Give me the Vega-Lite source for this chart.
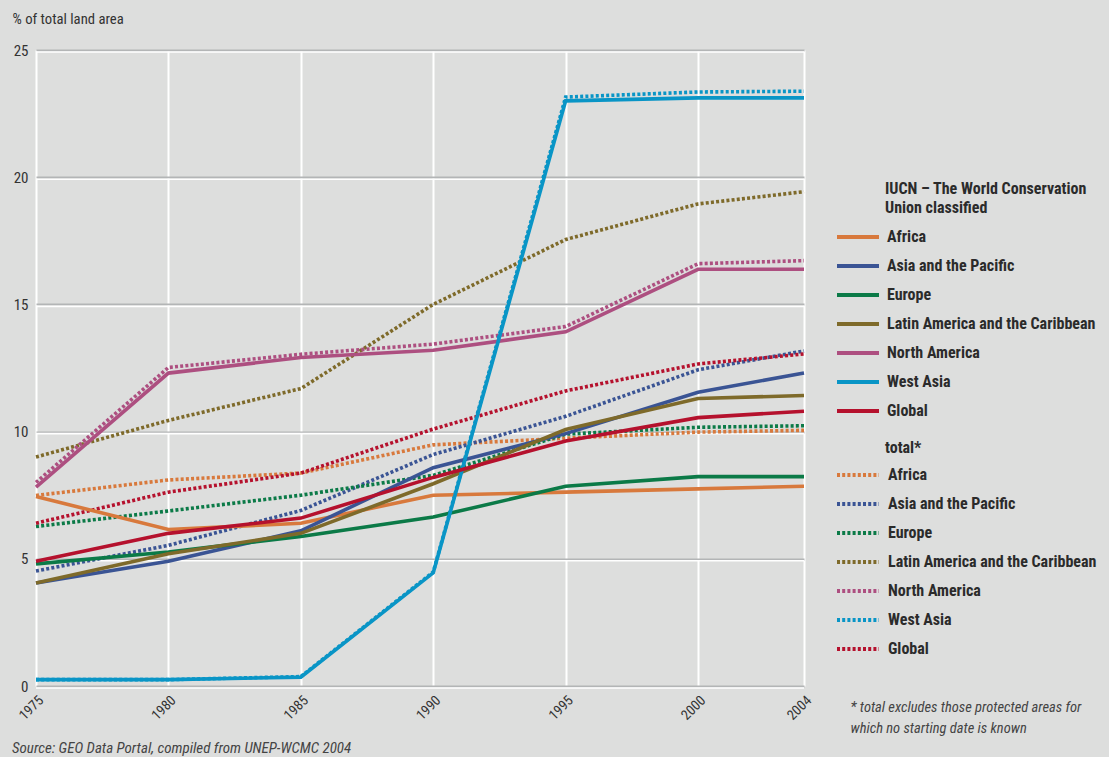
{
  "$schema": "https://vega.github.io/schema/vega-lite/v6.json",
  "width": 768,
  "height": 636,
  "autosize": "none",
  "padding": {"left": 36, "top": 50, "right": 305, "bottom": 71},
  "background": "#dddedd",
  "config": {
    "view": {"stroke": null},
    "font": "Liberation Sans Narrow, Roboto Condensed, Arial Narrow, Roboto, sans-serif"
  },
  "title": {
    "text": "Source: GEO Data Portal, compiled from UNEP-WCMC 2004",
    "orient": "bottom",
    "anchor": "start",
    "frame": "group",
    "fontSize": 15,
    "fontStyle": "italic",
    "fontWeight": "normal",
    "color": "#444444",
    "dx": -24,
    "offset": 6
  },
  "data": {
    "values": [
      {"year": 1975, "region": "Africa", "series": "IUCN", "value": 7.45},
      {"year": 1980, "region": "Africa", "series": "IUCN", "value": 6.15},
      {"year": 1985, "region": "Africa", "series": "IUCN", "value": 6.4},
      {"year": 1990, "region": "Africa", "series": "IUCN", "value": 7.5},
      {"year": 1995, "region": "Africa", "series": "IUCN", "value": 7.62},
      {"year": 2000, "region": "Africa", "series": "IUCN", "value": 7.75},
      {"year": 2004, "region": "Africa", "series": "IUCN", "value": 7.85},
      {"year": 1975, "region": "Asia and the Pacific", "series": "IUCN", "value": 4.05},
      {"year": 1980, "region": "Asia and the Pacific", "series": "IUCN", "value": 4.9},
      {"year": 1985, "region": "Asia and the Pacific", "series": "IUCN", "value": 6.1},
      {"year": 1990, "region": "Asia and the Pacific", "series": "IUCN", "value": 8.58},
      {"year": 1995, "region": "Asia and the Pacific", "series": "IUCN", "value": 9.92},
      {"year": 2000, "region": "Asia and the Pacific", "series": "IUCN", "value": 11.55},
      {"year": 2004, "region": "Asia and the Pacific", "series": "IUCN", "value": 12.3},
      {"year": 1975, "region": "Europe", "series": "IUCN", "value": 4.8},
      {"year": 1980, "region": "Europe", "series": "IUCN", "value": 5.27},
      {"year": 1985, "region": "Europe", "series": "IUCN", "value": 5.88},
      {"year": 1990, "region": "Europe", "series": "IUCN", "value": 6.64},
      {"year": 1995, "region": "Europe", "series": "IUCN", "value": 7.85},
      {"year": 2000, "region": "Europe", "series": "IUCN", "value": 8.23},
      {"year": 2004, "region": "Europe", "series": "IUCN", "value": 8.23},
      {"year": 1975, "region": "Latin America and the Caribbean", "series": "IUCN", "value": 4.05},
      {"year": 1980, "region": "Latin America and the Caribbean", "series": "IUCN", "value": 5.2},
      {"year": 1985, "region": "Latin America and the Caribbean", "series": "IUCN", "value": 6.0},
      {"year": 1990, "region": "Latin America and the Caribbean", "series": "IUCN", "value": 7.95},
      {"year": 1995, "region": "Latin America and the Caribbean", "series": "IUCN", "value": 10.08},
      {"year": 2000, "region": "Latin America and the Caribbean", "series": "IUCN", "value": 11.3},
      {"year": 2004, "region": "Latin America and the Caribbean", "series": "IUCN", "value": 11.42},
      {"year": 1975, "region": "North America", "series": "IUCN", "value": 7.82},
      {"year": 1980, "region": "North America", "series": "IUCN", "value": 12.3},
      {"year": 1985, "region": "North America", "series": "IUCN", "value": 12.91},
      {"year": 1990, "region": "North America", "series": "IUCN", "value": 13.2},
      {"year": 1995, "region": "North America", "series": "IUCN", "value": 13.92},
      {"year": 2000, "region": "North America", "series": "IUCN", "value": 16.38},
      {"year": 2004, "region": "North America", "series": "IUCN", "value": 16.38},
      {"year": 1975, "region": "West Asia", "series": "IUCN", "value": 0.25},
      {"year": 1980, "region": "West Asia", "series": "IUCN", "value": 0.25},
      {"year": 1985, "region": "West Asia", "series": "IUCN", "value": 0.35},
      {"year": 1990, "region": "West Asia", "series": "IUCN", "value": 4.45},
      {"year": 1995, "region": "West Asia", "series": "IUCN", "value": 23.0},
      {"year": 2000, "region": "West Asia", "series": "IUCN", "value": 23.12},
      {"year": 2004, "region": "West Asia", "series": "IUCN", "value": 23.12},
      {"year": 1975, "region": "Global", "series": "IUCN", "value": 4.9},
      {"year": 1980, "region": "Global", "series": "IUCN", "value": 6.0},
      {"year": 1985, "region": "Global", "series": "IUCN", "value": 6.6},
      {"year": 1990, "region": "Global", "series": "IUCN", "value": 8.2},
      {"year": 1995, "region": "Global", "series": "IUCN", "value": 9.63},
      {"year": 2000, "region": "Global", "series": "IUCN", "value": 10.55},
      {"year": 2004, "region": "Global", "series": "IUCN", "value": 10.8},
      {"year": 1975, "region": "Africa", "series": "total", "value": 7.49},
      {"year": 1980, "region": "Africa", "series": "total", "value": 8.1},
      {"year": 1985, "region": "Africa", "series": "total", "value": 8.37},
      {"year": 1990, "region": "Africa", "series": "total", "value": 9.48},
      {"year": 1995, "region": "Africa", "series": "total", "value": 9.74},
      {"year": 2000, "region": "Africa", "series": "total", "value": 9.98},
      {"year": 2004, "region": "Africa", "series": "total", "value": 10.05},
      {"year": 1975, "region": "Asia and the Pacific", "series": "total", "value": 4.52},
      {"year": 1980, "region": "Asia and the Pacific", "series": "total", "value": 5.53},
      {"year": 1985, "region": "Asia and the Pacific", "series": "total", "value": 6.9},
      {"year": 1990, "region": "Asia and the Pacific", "series": "total", "value": 9.1},
      {"year": 1995, "region": "Asia and the Pacific", "series": "total", "value": 10.6},
      {"year": 2000, "region": "Asia and the Pacific", "series": "total", "value": 12.43},
      {"year": 2004, "region": "Asia and the Pacific", "series": "total", "value": 13.17},
      {"year": 1975, "region": "Europe", "series": "total", "value": 6.27},
      {"year": 1980, "region": "Europe", "series": "total", "value": 6.88},
      {"year": 1985, "region": "Europe", "series": "total", "value": 7.5},
      {"year": 1990, "region": "Europe", "series": "total", "value": 8.28},
      {"year": 1995, "region": "Europe", "series": "total", "value": 9.9},
      {"year": 2000, "region": "Europe", "series": "total", "value": 10.17},
      {"year": 2004, "region": "Europe", "series": "total", "value": 10.23},
      {"year": 1975, "region": "Latin America and the Caribbean", "series": "total", "value": 9.0},
      {"year": 1980, "region": "Latin America and the Caribbean", "series": "total", "value": 10.44},
      {"year": 1985, "region": "Latin America and the Caribbean", "series": "total", "value": 11.69},
      {"year": 1990, "region": "Latin America and the Caribbean", "series": "total", "value": 15.0},
      {"year": 1995, "region": "Latin America and the Caribbean", "series": "total", "value": 17.55},
      {"year": 2000, "region": "Latin America and the Caribbean", "series": "total", "value": 18.95},
      {"year": 2004, "region": "Latin America and the Caribbean", "series": "total", "value": 19.43},
      {"year": 1975, "region": "North America", "series": "total", "value": 8.0},
      {"year": 1980, "region": "North America", "series": "total", "value": 12.52},
      {"year": 1985, "region": "North America", "series": "total", "value": 13.04},
      {"year": 1990, "region": "North America", "series": "total", "value": 13.44},
      {"year": 1995, "region": "North America", "series": "total", "value": 14.13},
      {"year": 2000, "region": "North America", "series": "total", "value": 16.6},
      {"year": 2004, "region": "North America", "series": "total", "value": 16.72},
      {"year": 1975, "region": "West Asia", "series": "total", "value": 0.25},
      {"year": 1980, "region": "West Asia", "series": "total", "value": 0.25},
      {"year": 1985, "region": "West Asia", "series": "total", "value": 0.37},
      {"year": 1990, "region": "West Asia", "series": "total", "value": 4.48},
      {"year": 1995, "region": "West Asia", "series": "total", "value": 23.15},
      {"year": 2000, "region": "West Asia", "series": "total", "value": 23.35},
      {"year": 2004, "region": "West Asia", "series": "total", "value": 23.38},
      {"year": 1975, "region": "Global", "series": "total", "value": 6.4},
      {"year": 1980, "region": "Global", "series": "total", "value": 7.62},
      {"year": 1985, "region": "Global", "series": "total", "value": 8.37},
      {"year": 1990, "region": "Global", "series": "total", "value": 10.1},
      {"year": 1995, "region": "Global", "series": "total", "value": 11.6},
      {"year": 2000, "region": "Global", "series": "total", "value": 12.66},
      {"year": 2004, "region": "Global", "series": "total", "value": 13.05}
    ]
  },
  "layer": [
    {
      "data": {"values": [{"value": 0}, {"value": 5}, {"value": 10}, {"value": 15}, {"value": 20}, {"value": 25}]},
      "mark": {"type": "rule", "color": "#ffffff", "strokeWidth": 1.6, "yOffset": 2},
      "encoding": {
        "y": {
          "field": "value",
          "type": "quantitative",
          "scale": {"domain": [0, 25], "nice": false, "zero": false},
          "axis": {
            "values": [0, 5, 10, 15, 20, 25],
            "title": "% of total land area",
            "titleAngle": 0,
            "titleAlign": "left",
            "titleBaseline": "middle",
            "titleX": -24,
            "titleY": -31,
            "titleFontWeight": "normal",
            "titleFontSize": 14.7,
            "titleColor": "#333333",
            "labelFontSize": 15,
            "labelColor": "#333333",
            "labelPadding": 8,
            "ticks": false,
            "tickSize": 0,
            "domain": false,
            "grid": true,
            "gridColor": "#b3b5b6",
            "gridWidth": 2
          }
        }
      }
    },
    {
      "transform": [{"filter": "datum.series === 'total'"}],
      "mark": {"type": "line", "strokeWidth": 3.6, "strokeDash": [3, 2.2], "strokeCap": "butt"},
      "encoding": {
        "x": {
          "field": "year",
          "type": "quantitative",
          "scale": {"domain": [1975, 2004], "nice": false, "zero": false},
          "axis": {
            "values": [1975, 1980, 1985, 1990, 1995, 2000, 2004],
            "format": "d",
            "labelAngle": -45,
            "labelFontSize": 14,
            "labelColor": "#333333",
            "labelPadding": 7,
            "ticks": false,
            "tickSize": 0,
            "domain": false,
            "grid": true,
            "gridColor": "#ffffff",
            "gridWidth": 2,
            "title": ["* total excludes those protected areas for", "which no starting date is known"],
            "titleX": 814,
            "titleY": 14,
            "titleAlign": "left",
            "titleAnchor": "start",
            "titleBaseline": "top",
            "titleFontStyle": "italic",
            "titleFontWeight": "normal",
            "titleFontSize": 14.5,
            "titleLineHeight": 21,
            "titleColor": "#444444"
          }
        },
        "y": {"field": "value", "type": "quantitative", "scale": {"domain": [0, 25], "nice": false, "zero": false}},
        "color": {
          "field": "region",
          "type": "nominal",
          "scale": {
            "domain": ["Africa", "Asia and the Pacific", "Europe", "Latin America and the Caribbean", "North America", "West Asia", "Global"],
            "range": ["#d8793c", "#3a5494", "#0b7a47", "#7e6a2a", "#ad4f80", "#0995c6", "#b5112d"]
          },
          "legend": {
            "title": "total*",
            "orient": "none",
            "legendX": 849,
            "legendY": 390,
            "padding": 0,
            "symbolType": "M-3.5,0H17.5",
            "symbolSize": 16,
            "symbolStrokeWidth": 4,
            "symbolDash": [3, 2.2],
            "symbolOffset": -49,
            "labelOffset": 36,
            "labelFontSize": 16,
            "labelFontWeight": "bold",
            "labelColor": "#2b2b2b",
            "labelLimit": 300,
            "titleFontSize": 16,
            "titleFontWeight": "bold",
            "titleColor": "#2b2b2b",
            "titleLimit": 300,
            "titlePadding": 11,
            "rowPadding": 13
          }
        }
      }
    },
    {
      "transform": [{"filter": "datum.series === 'IUCN'"}],
      "mark": {"type": "line", "strokeWidth": 3.6, "strokeCap": "butt"},
      "encoding": {
        "x": {"field": "year", "type": "quantitative", "scale": {"domain": [1975, 2004], "nice": false, "zero": false}},
        "y": {"field": "value", "type": "quantitative", "scale": {"domain": [0, 25], "nice": false, "zero": false}},
        "color": {
          "field": "region",
          "type": "nominal",
          "scale": {
            "domain": ["Africa", "Asia and the Pacific", "Europe", "Latin America and the Caribbean", "North America", "West Asia", "Global"],
            "range": ["#d8793c", "#3a5494", "#0b7a47", "#7e6a2a", "#ad4f80", "#0995c6", "#b5112d"]
          },
          "legend": {
            "title": ["IUCN – The World Conservation", "Union classified"],
            "orient": "none",
            "legendX": 849,
            "legendY": 131,
            "padding": 0,
            "symbolType": "M-3.5,0H17.5",
            "symbolSize": 16,
            "symbolStrokeWidth": 4,
            "symbolOffset": -49,
            "labelOffset": 35,
            "labelFontSize": 16,
            "labelFontWeight": "bold",
            "labelColor": "#2b2b2b",
            "labelLimit": 300,
            "titleFontSize": 16,
            "titleFontWeight": "bold",
            "titleColor": "#2b2b2b",
            "titleLimit": 300,
            "titleLineHeight": 19,
            "titlePadding": 13,
            "rowPadding": 13
          }
        }
      }
    }
  ],
  "resolve": {"scale": {"color": "independent"}, "legend": {"color": "independent"}}
}
